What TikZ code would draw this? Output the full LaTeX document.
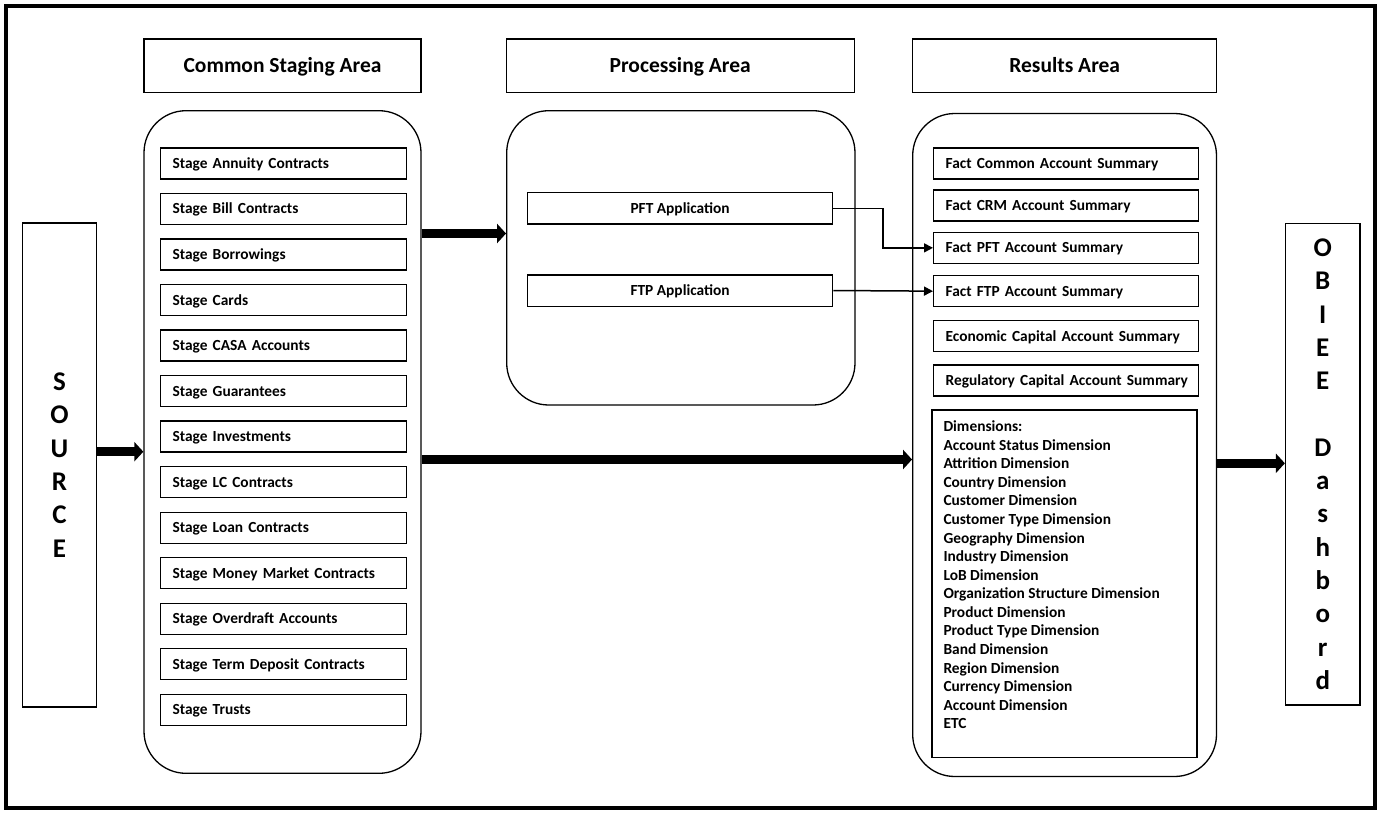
\documentclass[tikz,border=0pt]{standalone}
\usepackage{fontspec}
\setmainfont{Carlito}
\usetikzlibrary{arrows.meta,calc}
\begin{document}
\begin{tikzpicture}[x=1pt,y=-1pt,
  box/.style={draw,line width=1.3pt,inner sep=0pt},
  hdr/.style={box,minimum width=277pt,minimum height=53.5pt,
    text height=13.9pt,text depth=0pt,
    font=\fontsize{21.5}{26}\selectfont\bfseries},
  area/.style={draw,line width=1.3pt,rounded corners=42pt,inner sep=0pt},
  item/.style={box,anchor=north west,minimum height=31pt,inner xsep=12pt,
    text height=10pt,text depth=0pt,align=left,
    font=\fontsize{15.4}{18.6}\selectfont\bfseries},
  stgitem/.style={item,text width=222pt},
  resitem/.style={item,text width=240.5pt},
  app/.style={box,minimum width=305.2pt,minimum height=31.3pt,
    text height=10pt,text depth=0pt,
    font=\fontsize{15.4}{18.6}\selectfont\bfseries},
  dimline/.style={anchor=base west,inner sep=0pt,
    font=\fontsize{15.4}{18.6}\selectfont\bfseries},
  endbox/.style={box,minimum width=74.4pt,align=center,
    font=\fontsize{27}{33.3}\selectfont\bfseries},
  bigarrow/.style={line width=8.5pt,-{Triangle[length=9pt,width=19pt]}},
  thinarrow/.style={line width=1.5pt,-{Triangle[length=9pt,width=9pt]}}
]
\useasboundingbox (0,0) rectangle (1377,812);
% page frame
\draw[line width=3.7pt] (5.7,6) rectangle (1375,808);

% column headers
\node[hdr] (hstg) at (282.5,65.75) {Common Staging Area};
\node[hdr,minimum width=348pt] (hproc) at (680.2,65.75) {Processing Area};
\node[hdr,minimum width=304pt] (hres) at (1064.7,65.75) {Results Area};

% column containers
\node[area,minimum width=277pt,minimum height=662.6pt] (stg) at (282.5,442) {};
\node[area,minimum width=348.3pt,minimum height=294.3pt] (proc) at (680.85,257.85) {};
\node[area,minimum width=303.8pt,minimum height=663pt] (res) at (1064.6,445) {};

% source and dashboard
\node[endbox,minimum height=484pt] (src) at (59.5,465) {S\\O\\U\\R\\C\\E};
\node[endbox,minimum height=481.7pt] (obiee) at (1322.75,464.15)
  {O\\B\\I\\E\\E\\[33.3pt]D\\a\\s\\h\\b\\o\\r\\d};

% staging tables
\foreach \t [count=\i from 0] in {Stage Annuity Contracts,Stage Bill Contracts,
  Stage Borrowings,Stage Cards,Stage CASA Accounts,Stage Guarantees,
  Stage Investments,Stage LC Contracts,Stage Loan Contracts,
  Stage Money Market Contracts,Stage Overdraft Accounts,
  Stage Term Deposit Contracts,Stage Trusts}
  \node[stgitem] (s\i) at (160,147.3+45.53*\i) {\mbox{\t}};

% processing applications
\node[app] (pft) at (680.1,208.35) {PFT Application};
\node[app] (ftp) at (680.1,290.5) {FTP Application};

% result tables
\node[resitem] (fcom) at (933,147.3) {\mbox{Fact Common Account Summary}};
\node[resitem] (fcrm) at (933,189.3) {\mbox{Fact CRM Account Summary}};
\node[resitem] (fpft) at (933,231.7) {\mbox{Fact PFT Account Summary}};
\node[resitem] (fftp) at (933,275) {\mbox{Fact FTP Account Summary}};
\node[resitem] (fec) at (933,320) {\mbox{Economic Capital Account Summary}};
\node[resitem] (freg) at (933,364.3) {\mbox{Regulatory Capital Account Summary}};

% dimensions list
\node[box,minimum width=265pt,minimum height=347.7pt] (dims) at (1064.5,583.85) {};
\foreach \t [count=\i from 0] in {Dimensions:,Account Status Dimension,
  Attrition Dimension,Country Dimension,Customer Dimension,
  Customer Type Dimension,Geography Dimension,Industry Dimension,
  LoB Dimension,Organization Structure Dimension,Product Dimension,
  Product Type Dimension,Band Dimension,Region Dimension,
  Currency Dimension,Account Dimension,ETC}
  \node[dimline] (d\i) at (943.3,431.6+18.58*\i) {\t};

% flows
\draw[bigarrow] (src.east |- 0,451.7) -- (stg.west |- 0,451.7);
\draw[bigarrow] (stg.east |- 0,233.5) -- (proc.west |- 0,233.5);
\draw[bigarrow] (stg.east |- 0,459.5) -- (res.west |- 0,459.5);
\draw[bigarrow] (res.east |- 0,463.3) -- (obiee.west |- 0,463.3);
\draw[thinarrow] (pft.east) -| ($(pft.east)!.5!(fpft.west)$) |- (fpft.west);
\draw[thinarrow] (ftp.east) -- (fftp.west);
\end{tikzpicture}
\end{document}
